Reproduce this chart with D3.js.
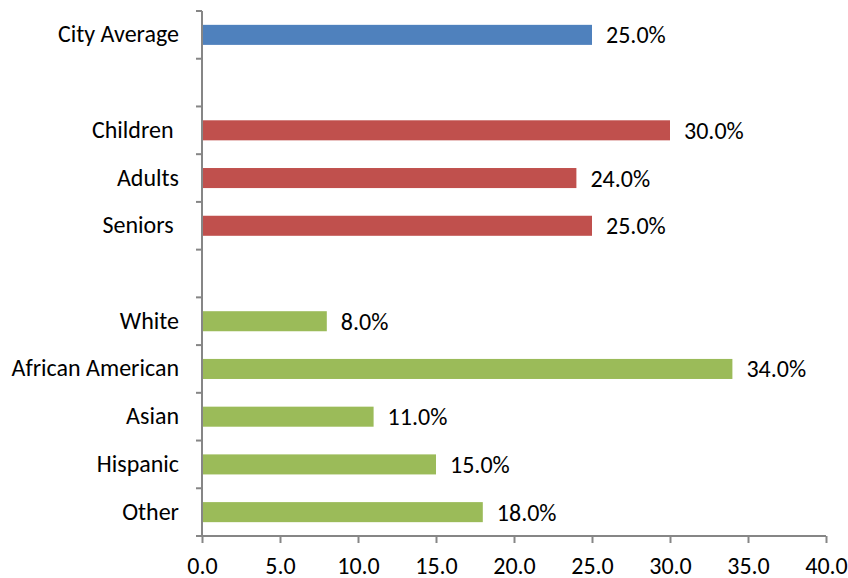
<!DOCTYPE html>
<html>
<head>
<meta charset="utf-8">
<script src="https://cdn.jsdelivr.net/npm/d3@7/dist/d3.min.js"></script>
<style>
  html, body { margin: 0; padding: 0; background: #fff; }
  svg text { font-family: Carlito, Calibri, "Open Sans", sans-serif; fill: #000; white-space: pre; }
</style>
</head>
<body>
<svg id="chart" width="848" height="578"></svg>
<script>
// Rows from top to bottom; empty strings are spacer rows between groups
const categories = ["City Average", "", "Children ", "Adults", "Seniors ", "", "White", "African American", "Asian", "Hispanic", "Other"];
const values     = [25.0, null, 30.0, 24.0, 25.0, null, 8.0, 34.0, 11.0, 15.0, 18.0];
const groups     = ["city", null, "age", "age", "age", null, "race", "race", "race", "race", "race"];
const xTicks     = [0, 5, 10, 15, 20, 25, 30, 35, 40];

const colors = { city: "#4F81BD", age: "#C0504D", race: "#9BBB59" };
const fontFamily = "Carlito, Calibri, 'Open Sans', sans-serif";
const fontSize = 24;

const svg = d3.select("#chart");
const plotLeft = 202, plotRight = 826, plotTop = 11, plotBottom = 536;

const x = d3.scaleLinear().domain([0, 40]).range([plotLeft, plotRight]);
const y = d3.scaleBand()
  .domain(d3.range(categories.length))
  .range([plotTop, plotBottom])
  .paddingInner(0.58)
  .paddingOuter(0.29);

const rows = categories.map((c, i) => ({ i, label: c, value: values[i], group: groups[i] }));
const bars = rows.filter(d => d.value !== null);
const mid = d => y(d.i) + y.bandwidth() / 2;

const axisColor = "#868686";

// Bars
svg.append("g").selectAll("rect").data(bars).join("rect")
  .attr("x", x(0))
  .attr("y", d => y(d.i))
  .attr("width", d => x(d.value) - x(0))
  .attr("height", y.bandwidth())
  .attr("fill", d => colors[d.group]);

// Value labels
svg.append("g").selectAll("text").data(bars).join("text")
  .attr("x", d => x(d.value) + 14)
  .attr("y", d => mid(d) + 8.5)
  .attr("font-size", fontSize)
  .text(d => d.value.toFixed(1) + "%");

// Category labels
svg.append("g").selectAll("text").data(rows.filter(d => d.label !== "")).join("text")
  .attr("x", plotLeft - 23)
  .attr("y", d => mid(d) + 7.5)
  .attr("text-anchor", "end")
  .attr("font-size", fontSize)
  .text(d => d.label);

// Vertical category axis with ticks at row boundaries
const step = y.step();
const yAxis = svg.append("g").attr("stroke", axisColor).attr("stroke-width", 2).attr("fill", "none");
yAxis.append("line").attr("x1", x(0)).attr("x2", x(0)).attr("y1", plotTop).attr("y2", plotBottom);
yAxis.selectAll("line.tick").data(d3.range(categories.length + 1)).join("line")
  .attr("class", "tick")
  .attr("x1", x(0) - 6).attr("x2", x(0))
  .attr("y1", i => plotTop + i * step).attr("y2", i => plotTop + i * step);

// Horizontal value axis
const xAxis = svg.append("g")
  .attr("transform", `translate(0,${plotBottom})`)
  .call(d3.axisBottom(x).tickValues(xTicks).tickSize(7).tickFormat(d3.format(".1f")));
xAxis.select(".domain").attr("stroke", axisColor).attr("stroke-width", 2).attr("d", `M${x(0)},0H${x(40)}`);
xAxis.selectAll(".tick line").attr("stroke", axisColor).attr("stroke-width", 2);
xAxis.selectAll(".tick text")
  .attr("y", 38).attr("dy", null)
  .attr("font-size", fontSize).attr("fill", "#000")
  .style("font-family", fontFamily);
</script>
</body>
</html>
